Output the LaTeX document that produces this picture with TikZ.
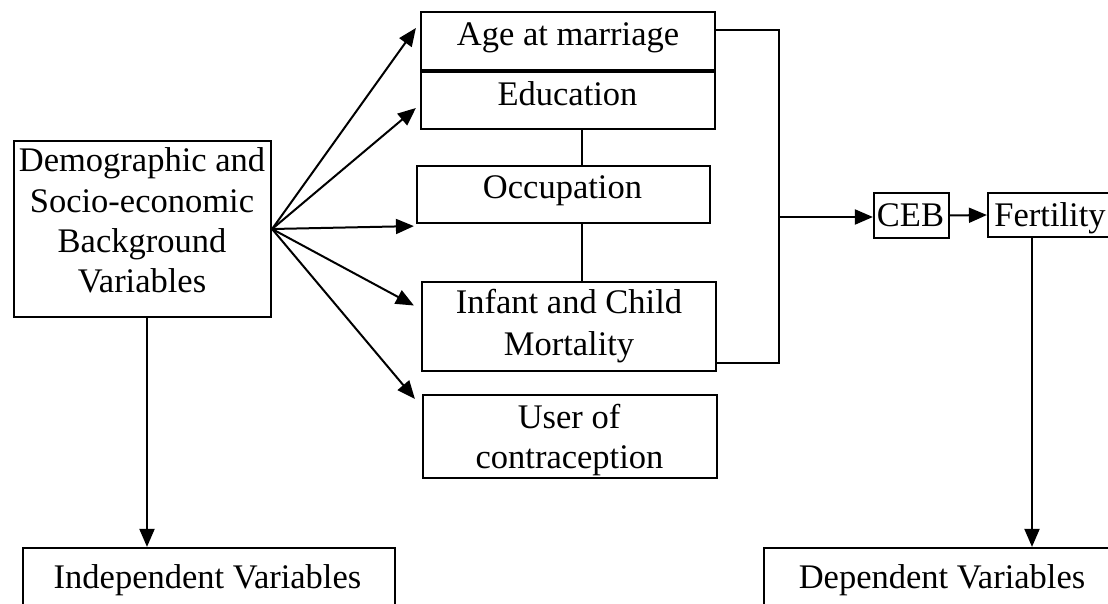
\documentclass[tikz,border=0pt]{standalone}
\usepackage{fontspec}
\setmainfont{Liberation Serif}
\usetikzlibrary{arrows.meta,calc}
\begin{document}
\begin{tikzpicture}[x=1pt,y=-1pt,
  box/.style={draw,line width=2.2pt,inner sep=0pt,minimum width=#1},
  txt/.style={inner sep=0pt,anchor=base,font=\fontsize{34.5}{40}\selectfont},
  arr/.style={line width=2pt,-{Triangle[length=18pt,width=15pt]}},
  ln/.style={line width=2.2pt}]
\clip (0,0) rectangle (1108,604);
\fill[white] (0,0) rectangle (1108,604);
% boxes
\node[box=257pt,minimum height=176pt] (demo) at (142.5,229) {};
\node[box=294pt,minimum height=58pt] (age) at (568,41) {};
\node[box=294pt,minimum height=57pt] (edu) at (568,100.5) {};
\node[box=293pt,minimum height=57pt] (occ) at (563.5,194.5) {};
\node[box=294pt,minimum height=89pt] (inf) at (569,326.5) {};
\node[box=294pt,minimum height=83pt] (user) at (570,436.5) {};
\node[box=75pt,minimum height=45pt] (ceb) at (911.5,215.5) {};
\node[box=124pt,minimum height=44pt] (fert) at (1050,215) {};
\node[box=372pt,minimum height=80pt] (indep) at (209,588) {};
\node[box=356pt,minimum height=80pt] (dep) at (942,588) {};
% texts
\node[txt] (demo-1) at (142,172) {Demographic and};
\node[txt] (demo-2) at (142,212) {Socio-economic};
\node[txt] (demo-3) at (142,252) {Background};
\node[txt] (demo-4) at (142,292) {Variables};
\node[txt] (age-t) at (568,46) {Age at marriage};
\node[txt] (edu-t) at (567.5,106) {Education};
\node[txt] (occ-t) at (562.5,199) {Occupation};
\node[txt] (inf-1) at (569,313) {Infant and Child};
\node[txt] (inf-2) at (569,355) {Mortality};
\node[txt] (user-1) at (569,428) {User of};
\node[txt] (user-2) at (569.5,468) {contraception};
\node[txt] (ceb-t) at (910.5,226) {CEB};
\node[txt] (fert-t) at (1050,226) {Fertility};
\node[txt] (indep-t) at (207.5,588) {Independent Variables};
\node[txt] (dep-t) at (942,588) {Dependent Variables};
% arrows from background box
\draw[arr] (demo.east) -- ($(age.west)+(-4,-13)$);
\draw[arr] (demo.east) -- ($(edu.west)+(-4,7.5)$);
\draw[arr] (demo.east) -- ($(occ.south west)+(-2,2)$);
\draw[arr] (demo.east) -- ($(inf.west)+(-7,-21)$);
\draw[arr] (demo.east) -- ($(user.north west)+(-7,5)$);
% spine between middle boxes
\coordinate (spine) at (582,0);
\draw[ln] (spine |- age.south) -- (spine |- edu.north);
\draw[ln] (spine |- edu.south) -- (spine |- occ.north);
\draw[ln] (spine |- occ.south) -- (spine |- inf.north);
% bracket
\coordinate (brtop) at (779,30);
\coordinate (brbot) at (779,363);
\coordinate (brmid) at (779,217);
\draw[ln] (age.east |- brtop) -- (brtop) -- (brbot) -- (inf.east |- brbot);
\draw[arr] (brmid) -- (ceb.west |- brmid);
\draw[arr] (ceb.east) -- (fert.west);
% down arrows
\coordinate (dl) at (147,0);
\draw[arr] (dl |- demo.south) -- (dl |- indep.north);
\coordinate (dr) at (1032,0);
\draw[arr] (dr |- fert.south) -- (dr |- dep.north);
\end{tikzpicture}
\end{document}
